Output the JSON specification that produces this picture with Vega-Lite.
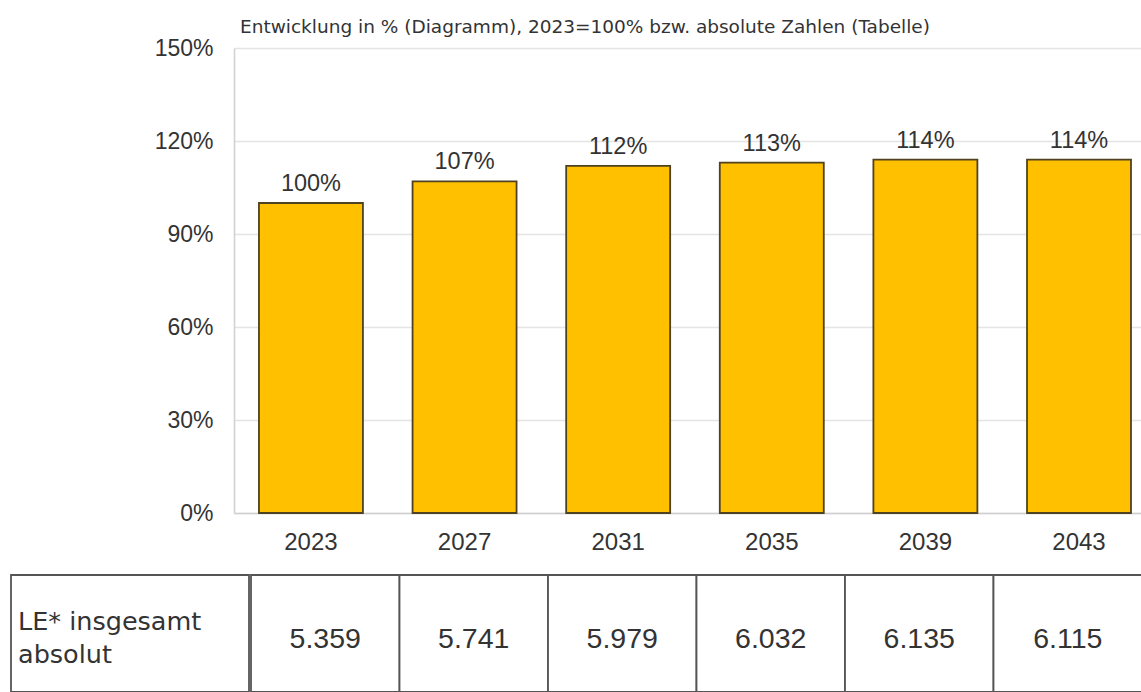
{
  "$schema": "https://vega.github.io/schema/vega-lite/v6.json",
  "padding": {"left": 10, "top": 17, "right": 0, "bottom": 0},
  "background": "white",
  "config": {
    "view": {"stroke": null},
    "font": "Liberation Sans",
    "locale": {"number": {"decimal": ",", "thousands": ".", "grouping": [3], "currency": ["", " €"]}}
  },
  "datasets": {
    "main": [
      {"year": "2023", "pct": 1.00, "abs": 5359},
      {"year": "2027", "pct": 1.07, "abs": 5741},
      {"year": "2031", "pct": 1.12, "abs": 5979},
      {"year": "2035", "pct": 1.13, "abs": 6032},
      {"year": "2039", "pct": 1.14, "abs": 6135},
      {"year": "2043", "pct": 1.14, "abs": 6115}
    ],
    "rowlabel": [{"label": "LE* insgesamt\nabsolut"}]
  },
  "spacing": 20,
  "vconcat": [
    {
      "spacing": 0,
      "bounds": "flush",
      "hconcat": [
        {
          "width": 223,
          "height": 465,
          "data": {"name": "rowlabel"},
          "mark": {"type": "rect", "opacity": 0},
          "encoding": {}
        },
        {
          "width": 908,
          "height": 465,
          "data": {"name": "main"},
          "title": {
            "text": "Entwicklung in % (Diagramm), 2023=100% bzw. absolute Zahlen (Tabelle)",
            "anchor": "start",
            "frame": "group",
            "font": "DejaVu Sans",
            "fontSize": 18.5,
            "fontWeight": "normal",
            "color": "#333333",
            "offset": 1,
            "dx": 6
          },
          "encoding": {
            "x": {
              "field": "year",
              "type": "ordinal",
              "scale": {"paddingInner": 0.323, "paddingOuter": 0.117, "align": 0.694},
              "axis": {
                "title": null,
                "labelAngle": 0,
                "labelFontSize": 24,
                "labelColor": "#333333",
                "labelPadding": 17,
                "ticks": false,
                "domainColor": "#d0d0d0",
                "domainWidth": 1.5
              }
            },
            "y": {
              "field": "pct",
              "type": "quantitative",
              "scale": {"domain": [0, 1.5], "nice": false},
              "axis": {
                "title": null,
                "values": [0, 0.3, 0.6, 0.9, 1.2, 1.5],
                "format": ".0%",
                "labelFontSize": 23,
                "labelColor": "#333333",
                "labelPadding": 21,
                "ticks": false,
                "domainColor": "#d0d0d0",
                "domainWidth": 1.5,
                "gridColor": "#e4e4e4",
                "gridWidth": 1.5
              }
            }
          },
          "layer": [
            {"mark": {"type": "bar", "fill": "#ffc000", "stroke": "#4f4220", "strokeWidth": 1.8}},
            {
              "mark": {"type": "text", "dy": -12, "fontSize": 23.5, "color": "#333333", "baseline": "alphabetic"},
              "encoding": {"text": {"field": "pct", "type": "quantitative", "format": ".0%"}}
            }
          ]
        }
      ]
    },
    {
      "spacing": 0,
      "hconcat": [
        {
          "width": 238,
          "height": 117,
          "data": {"name": "rowlabel"},
          "layer": [
            {"mark": {"type": "rect", "fill": "white", "stroke": "#555555", "strokeWidth": 1.8}, "encoding": {}},
            {
              "mark": {"type": "text", "align": "left", "baseline": "middle", "lineBreak": "\n", "lineHeight": 33, "font": "DejaVu Sans", "fontSize": 25.5, "color": "#333333", "dx": 7, "dy": -11.5},
              "encoding": {
                "x": {"field": "label", "type": "nominal", "bandPosition": 0, "scale": {"type": "band", "paddingInner": 0, "paddingOuter": 0}, "axis": null},
                "text": {"field": "label"}
              }
            }
          ]
        },
        {
          "width": 891,
          "height": 117,
          "data": {"name": "main"},
          "encoding": {
            "x": {"field": "year", "type": "ordinal", "scale": {"paddingInner": 0, "paddingOuter": 0}, "axis": null}
          },
          "layer": [
            {"mark": {"type": "rect", "fill": "white", "stroke": "#555555", "strokeWidth": 1.8}},
            {
              "mark": {"type": "text", "baseline": "middle", "fontSize": 28.5, "color": "#333333", "dy": 5},
              "encoding": {"text": {"field": "abs", "type": "quantitative", "format": ",d"}}
            }
          ]
        }
      ]
    }
  ]
}
